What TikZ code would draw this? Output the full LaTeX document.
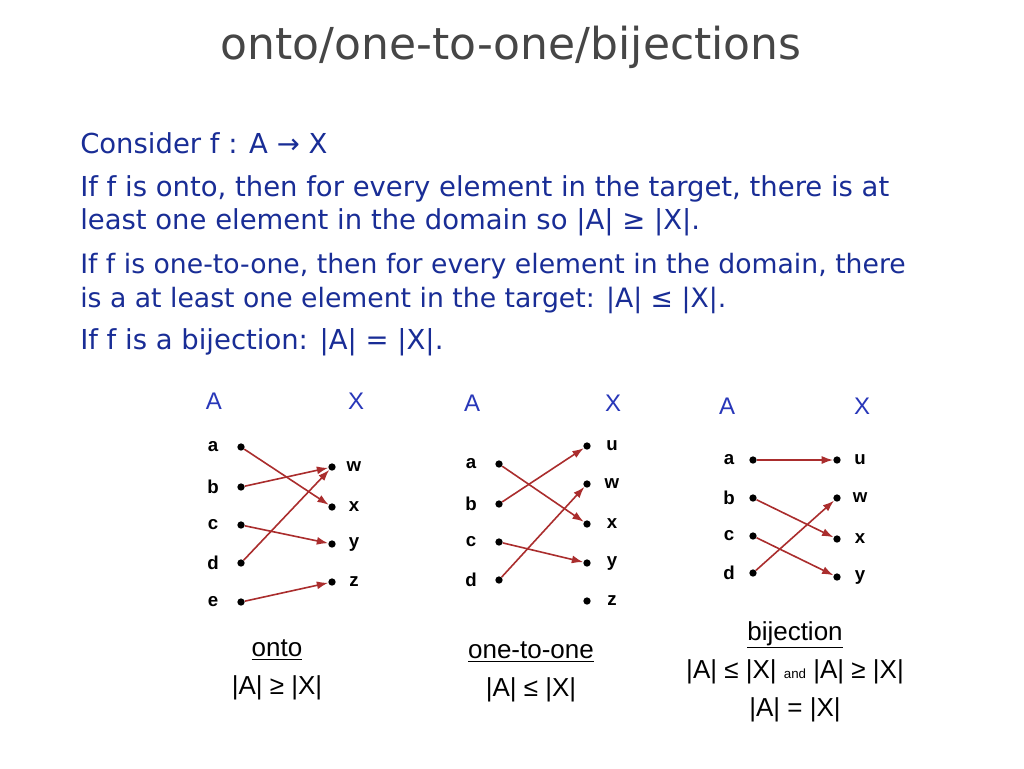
\documentclass[tikz,border=0pt]{standalone}
\usepackage{fontspec}
\setmainfont{DejaVu Sans}
\newfontfamily\arialf{Liberation Sans}
\usetikzlibrary{arrows.meta}
\definecolor{bodyblue}{RGB}{25,45,150}
\definecolor{titlegray}{RGB}{70,70,70}
\definecolor{setblue}{RGB}{40,55,185}
\definecolor{arrred}{RGB}{170,45,45}
\begin{document}
\begin{tikzpicture}[x=0.75pt,y=-0.75pt,
  title/.style={text=titlegray,font=\fontsize{33}{38}\selectfont,inner sep=0pt},
  body/.style={text=bodyblue,font=\fontsize{20.6}{24}\selectfont,inner sep=0pt,anchor=base west},
  bodyn/.style={body,font=\fontsize{20}{24}\selectfont},
  setlbl/.style={text=setblue,font=\arialf\fontsize{18}{20}\selectfont,inner sep=0pt},
  elem/.style={text=black,font=\arialf\bfseries\fontsize{14}{16}\selectfont,inner sep=0pt},
  dot/.style={circle,fill=black,inner sep=0pt,minimum size=5.5pt},
  arr/.style={draw=arrred,line width=1.2pt,-{Latex[length=8.5pt,width=6pt]}},
  captxt/.style={text=black,font=\arialf\fontsize{19.5}{22}\selectfont,inner sep=0pt}
]
\useasboundingbox (0,0) rectangle (1024,768);
\fill[white] (0,0) rectangle (1024,768);
% title
\node[title] (t) at (511,47) {onto/one-to-one/bijections};
% body
\node[body] (l1) at (80,153) {Consider f : A → X};
\node[body] (l2) at (80,196) {If f is onto, then for every element in the target, there is at};
\node[body] (l3) at (80,229) {least one element in the domain so |A| ≥ |X|.};
\node[bodyn] (l4) at (80,273) {If f is one-to-one, then for every element in the domain, there};
\node[bodyn] (l5) at (80,307) {is a at least one element in the target: |A| ≤ |X|.};
\node[body] (l6) at (80,349) {If f is a bijection: |A| = |X|.};

% ---------- onto ----------
\node[setlbl] (oA) at (214,401) {A};
\node[setlbl] (oX) at (356,401) {X};
\foreach \n/\y in {a/447,b/487,c/525,d/563,e/602}{
  \node[elem] (ol\n) at (213,\y) {\n};
  \node[dot] (o\n) at (241,\y) {};
}
\foreach \n/\y in {w/467,x/507,y/544,z/582}{
  \node[dot] (o\n) at (332,\y) {};
  \node[elem] (ol\n) at (354,\y) {\n};
}
\draw[arr] (oa) -- (ox);
\draw[arr] (ob) -- (ow);
\draw[arr] (oc) -- (oy);
\draw[arr] (od) -- (ow);
\draw[arr] (oe) -- (oz);
\node[captxt] (ocap) at (277,650) {\underline{onto}};
\node[captxt] (orel) at (277,688) {|A| ≥ |X|};

% ---------- one-to-one ----------
\node[setlbl] (iA) at (472,403) {A};
\node[setlbl] (iX) at (613,403) {X};
\foreach \n/\y in {a/464,b/504,c/542,d/580}{
  \node[elem] (il\n) at (471,\y) {\n};
  \node[dot] (i\n) at (499,\y) {};
}
\foreach \n/\y in {u/446,w/484,x/524,y/563,z/601}{
  \node[dot] (i\n) at (587,\y) {};
  \node[elem] (il\n) at (612,\y) {\n};
}
\draw[arr] (ia) -- (ix);
\draw[arr] (ib) -- (iu);
\draw[arr] (ic) -- (iy);
\draw[arr] (id) -- (iw);
\node[captxt] (icap) at (531,652) {\underline{one-to-one}};
\node[captxt] (irel) at (531,690) {|A| ≤ |X|};

% ---------- bijection ----------
\node[setlbl] (bA) at (727,406) {A};
\node[setlbl] (bX) at (862,406) {X};
\foreach \n/\y in {a/460,b/498,c/536,d/573}{
  \node[elem] (bl\n) at (729,\y) {\n};
  \node[dot] (b\n) at (753,\y) {};
}
\foreach \n/\y in {u/460,w/498,x/539,y/577}{
  \node[dot] (b\n) at (837,\y) {};
  \node[elem] (bl\n) at (860,\y) {\n};
}
\draw[arr] (ba) -- (bu);
\draw[arr] (bb) -- (bx);
\draw[arr] (bc) -- (by);
\draw[arr] (bd) -- (bw);
\node[captxt] (bcap) at (795,635) {\underline{bijection}};
\node[captxt] (brel) at (795,672) {|A| ≤ |X| {\fontsize{10}{12}\selectfont and} |A| ≥ |X|};
\node[captxt] (beq) at (795,710) {|A| = |X|};
\end{tikzpicture}
\end{document}
